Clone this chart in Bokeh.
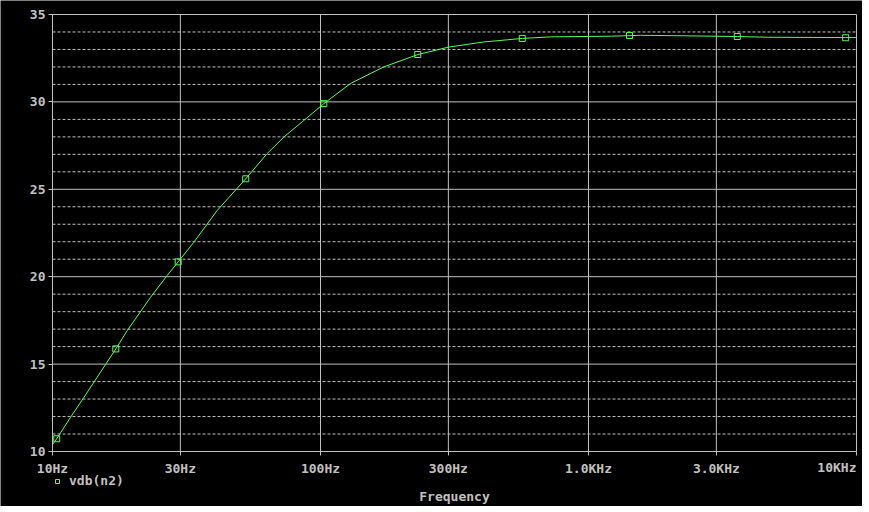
import math
from bokeh.plotting import figure
from bokeh.models import Range1d, FixedTicker, Legend, LegendItem, Label
from bokeh.embed import file_html
from bokeh.resources import INLINE

# ---- data ----
freq = [10.0, 10.37, 11.67, 13.09, 17.23, 18.99, 23.21, 26.79, 29.44, 33.68,
        41.17, 52.6, 63.2, 73.0, 86.7, 102.9, 129.3, 172.1, 230.7, 302.0,
        407.0, 566.0, 721.0, 1219.0, 1565.0, 2070.0, 3590.0, 4640.0, 9110.0, 10000.0]
vdb = [10.40, 10.73, 11.95, 13.09, 15.87, 16.91, 18.82, 20.07, 20.85, 21.97,
       23.79, 25.60, 27.04, 27.99, 28.94, 29.90, 31.05, 32.00, 32.71, 33.14,
       33.43, 33.63, 33.72, 33.76, 33.81, 33.79, 33.74, 33.70, 33.68, 33.68]

marker_freq = [10.37, 17.23, 29.44, 52.6, 102.9, 230.7, 566.0, 1422.0, 3590.0, 9110.0]
marker_vdb = [10.73, 15.87, 20.85, 25.60, 29.90, 32.71, 33.63, 33.80, 33.74, 33.67]

x_ticks = [10, 30, 100, 300, 1000, 3000, 10000]
x_tick_labels = ["10Hz", "30Hz", "100Hz", "300Hz", "1.0KHz", "3.0KHz", "10KHz"]
y_ticks = [10, 15, 20, 25, 30, 35]
y_minor = [v for v in range(10, 36) if v not in y_ticks]
series_name = "vdb(n2)"
x_title = "Frequency"

GREEN = "#55ff55"
GRAY = "#c0c0c0"
FONT = "DejaVu Sans Mono"

# ---- layout (pixels): plot box 52..856 x 14..451 inside a 862 x 506 black page;
# the whole figure is the frame so that the axes' texts are not clipped ----
FIG_W, FIG_H = 862, 506
LEFT_PX, RIGHT_PX, TOP_PX, BASE_PX = 52, 856, 14, 451
lx0, lx1 = math.log10(x_ticks[0]), math.log10(x_ticks[-1])
px_per_dec = (RIGHT_PX - LEFT_PX) / (lx1 - lx0)
x_low = 10 ** (lx0 - LEFT_PX / px_per_dec)
x_high = 10 ** (lx1 + (FIG_W - RIGHT_PX) / px_per_dec)
px_per_unit = (BASE_PX - TOP_PX) / (y_ticks[-1] - y_ticks[0])
y_low = y_ticks[0] - (FIG_H - BASE_PX) / px_per_unit
y_high = y_ticks[-1] + TOP_PX / px_per_unit

p = figure(width=FIG_W, height=FIG_H, x_axis_type="log",
           x_range=Range1d(x_low, x_high), y_range=Range1d(y_low, y_high),
           output_backend="svg", toolbar_location=None,
           background_fill_color="black", border_fill_color="black",
           outline_line_color=None,
           min_border_left=0, min_border_right=0, min_border_top=0, min_border_bottom=0)

# ---- axes ----
xax = p.xaxis[0]
yax = p.yaxis[0]
xax.ticker = FixedTicker(ticks=x_ticks)
overrides = {t: lab for t, lab in zip(x_ticks, x_tick_labels)}
overrides[x_ticks[-1]] = ""
xax.major_label_overrides = overrides
xax.fixed_location = y_ticks[0]
xax.bounds = (x_ticks[0], x_ticks[-1])
yax.ticker = FixedTicker(ticks=y_ticks)
yax.fixed_location = x_ticks[0]
yax.bounds = (y_ticks[0], y_ticks[-1])

for ax in (xax, yax):
    ax.axis_line_color = GRAY
    ax.major_tick_line_color = GRAY
    ax.major_tick_in = 0
    ax.major_tick_out = 4
    ax.minor_tick_line_color = None
    ax.major_label_text_color = GRAY
    ax.major_label_text_font = FONT
    ax.major_label_text_font_style = "bold"
    ax.major_label_text_font_size = "13px"

xax.major_label_standoff = 5
yax.major_label_standoff = 3
xax.axis_label = x_title
xax.axis_label_text_color = GRAY
xax.axis_label_text_font = FONT
xax.axis_label_text_font_style = "bold"
xax.axis_label_text_font_size = "13px"
xax.axis_label_standoff = 10

# ---- grid (bounded to the plot box) ----
p.xgrid.visible = False
p.ygrid.visible = False
p.segment(x0=[x_ticks[0]] * len(y_minor), y0=y_minor,
          x1=[x_ticks[-1]] * len(y_minor), y1=y_minor,
          line_color=GRAY, line_width=1, line_dash="3 2")
p.segment(x0=[x_ticks[0]] * len(y_ticks), y0=y_ticks,
          x1=[x_ticks[-1]] * len(y_ticks), y1=y_ticks,
          line_color=GRAY, line_width=1)
p.segment(x0=x_ticks, y0=[y_ticks[0]] * len(x_ticks),
          x1=x_ticks, y1=[y_ticks[-1]] * len(x_ticks),
          line_color=GRAY, line_width=1)

# ---- data ----
p.line(freq, vdb, line_color=GREEN, line_width=1)
r = p.scatter(marker_freq, marker_vdb, marker="square", size=6,
              fill_color=None, line_color=GREEN, line_width=1)

# last x tick label right-aligned at the end of the axis
p.add_layout(Label(x=x_ticks[-1], y=y_ticks[0], y_offset=-16,
                   text=x_tick_labels[-1], text_align="right", text_baseline="middle",
                   text_color=GRAY, text_font=FONT, text_font_style="bold",
                   text_font_size="13px"))

legend = Legend(items=[LegendItem(label=series_name, renderers=[r])],
                location=(LEFT_PX, FIG_H - 488), orientation="vertical",
                background_fill_alpha=0, border_line_alpha=0,
                padding=0, margin=0, spacing=0,
                glyph_width=10, glyph_height=14, label_height=14,
                label_standoff=7,
                label_text_color=GRAY, label_text_font=FONT,
                label_text_font_style="bold", label_text_font_size="13px")
p.add_layout(legend)

open("out.html", "w").write(file_html(p, INLINE))
